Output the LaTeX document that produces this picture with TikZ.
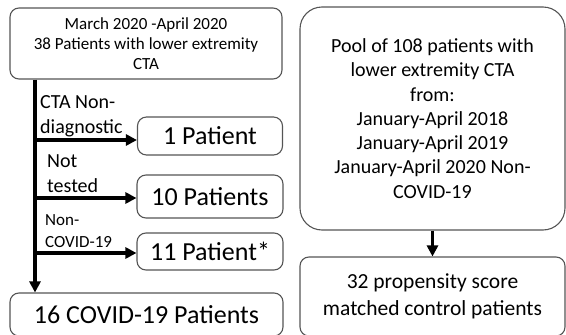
\documentclass[tikz,border=0pt]{standalone}
\usepackage{fontspec}
\setmainfont{Carlito}
\usetikzlibrary{arrows.meta, positioning}
\definecolor{boxgray}{RGB}{85,85,85}

\begin{document}
\begin{tikzpicture}[x=1pt,y=-1pt,
  box/.style={draw=boxgray,line width=1.1pt,rounded corners=9pt,inner sep=0pt,align=center},
  big/.style={font=\fontsize{26}{31}\selectfont},
  lbl/.style={inner sep=0pt,align=left,anchor=base west,font=\fontsize{20}{24.5}\selectfont},
  arr/.style={-{Triangle[length=11pt,width=11pt]},line width=3.5pt}]
  \useasboundingbox (0,0) rectangle (566,335);
  %% study group
  \node[box,minimum width=272pt,minimum height=71pt,font=\fontsize{17}{20}\selectfont](start) at (146,43.5)
    {March 2020 -April 2020\\38 Patients with lower extremity\\CTA};
  \node[box,big,minimum width=145pt,minimum height=38pt](one) at (210,136){1 Patient};
  \node[box,big,minimum width=146pt,minimum height=43pt](ten) at (210,196.5){10 Patients};
  \node[box,big,minimum width=146pt,minimum height=37pt](eleven) at (210,251.5){11 Patient*};
  \node[box,big,minimum width=273pt,minimum height=43pt](covid) at (146.5,314.5){16 COVID-19 Patients};
  \coordinate (trunk) at ([xshift=-111pt]start.south);
  \draw[arr](trunk)--(trunk |- covid.north);
  \draw[arr]([yshift=-4pt]trunk |- one.west)--([yshift=-4pt]one.west);
  \draw[arr]([yshift=-1.5pt]trunk |- ten.west)--([yshift=-1.5pt]ten.west);
  \draw[arr]([yshift=-1.5pt]trunk |- eleven.west)--([yshift=-1.5pt]eleven.west);
  \node[lbl](nondiag) at (40,133){CTA Non-\\diagnostic};
  \node[lbl](untested) at (47,192){Not\\tested};
  \node[lbl,font=\fontsize{17}{22}\selectfont](noncovid) at (45,247){Non-\\COVID-19};
  %% controls
  \node[box,rounded corners=22pt,minimum width=265pt,minimum height=223pt,
    font=\fontsize{20}{24.3}\selectfont](pool) at (432.5,118.5)
    {Pool of 108 patients with\\lower extremity CTA\\from:\\January-April 2018\\January-April 2019\\January-April 2020 Non-\\COVID-19};
  \node[box,minimum width=265pt,minimum height=79pt,font=\fontsize{21.5}{27}\selectfont](match) at (432.5,296.5)
    {32 propensity score\\matched control patients};
  \draw[arr](pool)--(match);
\end{tikzpicture}
\end{document}
